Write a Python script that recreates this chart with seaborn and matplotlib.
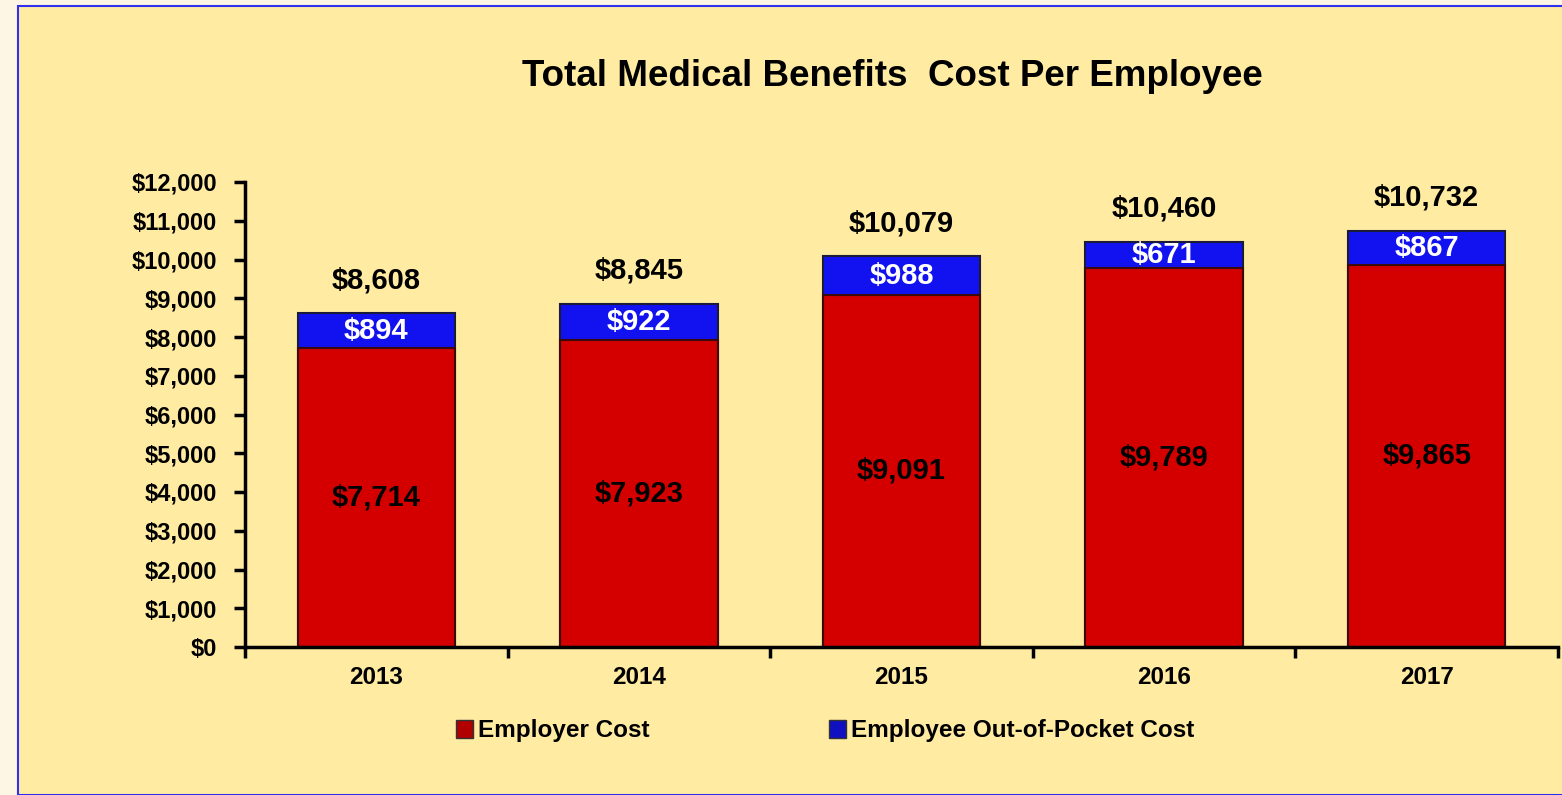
import numpy as np
import pandas as pd
import matplotlib.pyplot as plt
import matplotlib.patches as mpatches
import seaborn as sns

years = ["2013", "2014", "2015", "2016", "2017"]
employer_cost = [7714, 7923, 9091, 9789, 9865]
employee_cost = [894, 922, 988, 671, 867]
totals = [a + b for a, b in zip(employer_cost, employee_cost)]

red = "#D40000"
blue = "#1212F0"
panel = "#FFEBA1"

sns.set_theme(style="white")
plt.rcParams["font.family"] = ["Liberation Sans", "DejaVu Sans"]
plt.rcParams["font.weight"] = "bold"
for k in ["text.color", "axes.labelcolor", "xtick.color", "ytick.color"]:
    plt.rcParams[k] = "black"

df = pd.DataFrame({"year": years, "employer": employer_cost,
                   "employee": employee_cost, "total": totals})

fig = plt.figure(figsize=(15.62, 7.95), dpi=100)
fig.patch.set_facecolor("#FDF6E4")
fig.patches.append(mpatches.Rectangle((18 / 1562, 0), 1.0, 1 - 6 / 795,
                                      transform=fig.transFigure, facecolor=panel,
                                      edgecolor="#3030F0", linewidth=1.5, zorder=-10))

ax = fig.add_axes([245 / 1562, 1 - 647 / 795, (1558 - 245) / 1562, (647 - 182) / 795])
ax.set_facecolor("none")

# stacked bars: total (blue) behind, employer (red) in front
sns.barplot(data=df, x="year", y="total", color=blue, width=0.6, saturation=1,
            edgecolor="#1a1a3a", linewidth=1.5, ax=ax)
sns.barplot(data=df, x="year", y="employer", color=red, width=0.6, saturation=1,
            edgecolor="#3a0a0a", linewidth=1.5, ax=ax)

for i in range(len(years)):
    ax.text(i, employer_cost[i] / 2, f"${employer_cost[i]:,}", ha="center", va="center",
            fontsize=21, color="black", fontweight="bold")
    ax.text(i, employer_cost[i] + employee_cost[i] / 2, f"${employee_cost[i]:,}",
            ha="center", va="center", fontsize=21, color="white", fontweight="bold")
    ax.annotate(f"${totals[i]:,}", (i, totals[i]), xytext=(0, 24), textcoords="offset points",
                ha="center", va="center", fontsize=21, fontweight="bold", color="black")

ax.set_ylim(0, 12000)
ax.set_xlim(-0.5, len(years) - 0.5)
ax.set_yticks(np.arange(0, 12001, 1000))
ax.set_yticklabels([f"${v:,}" for v in range(0, 12001, 1000)])
ax.set_xticks(range(len(years)))
ax.set_xticklabels(years)
ax.set_xticks(np.arange(-0.5, len(years), 1), minor=True)
ax.tick_params(axis="x", which="major", length=0, pad=14, labelsize=17.5)
ax.tick_params(axis="x", which="minor", length=8, width=2.5, direction="out", color="black", bottom=True)
ax.tick_params(axis="y", length=8, width=2.5, direction="out", color="black", left=True,
               labelsize=17, pad=12)
ax.set_xlabel("")
ax.set_ylabel("")
sns.despine(ax=ax)
for s in ["left", "bottom"]:
    ax.spines[s].set_linewidth(2.5)
    ax.spines[s].set_color("black")

fig.text(892 / 1562, 1 - 77 / 795, "Total Medical Benefits  Cost Per Employee",
         ha="center", va="center", fontsize=26.5, fontweight="bold")

handles = [mpatches.Patch(facecolor="#B00000", edgecolor="#333333", label="Employer Cost"),
           mpatches.Patch(facecolor="#1010C0", edgecolor="#333333", label="Employee Out-of-Pocket Cost")]
fig.legend(handles=handles, loc="center", bbox_to_anchor=(825 / 1562, 1 - 731 / 795), ncol=2,
           frameon=False, fontsize=17.5, handlelength=0.7, handleheight=0.7, handletextpad=0.2,
           columnspacing=7.4)

fig.savefig("out.png", dpi=100, facecolor=fig.get_facecolor())
